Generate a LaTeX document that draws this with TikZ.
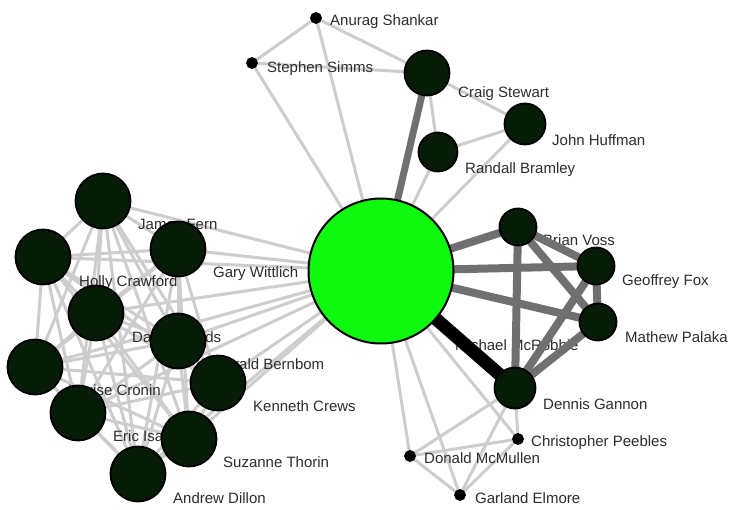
\documentclass[tikz,border=0pt]{standalone}
\usepackage{fontspec}
\setmainfont{Liberation Sans}
\definecolor{nodefill}{RGB}{6,28,6}
\definecolor{centergreen}{RGB}{16,250,16}
\definecolor{litecol}{RGB}{205,205,205}
\definecolor{heavycol}{RGB}{112,112,112}
\definecolor{txtcol}{RGB}{45,45,45}
\pgfdeclarelayer{paper}
\pgfdeclarelayer{edgebg}
\pgfdeclarelayer{labels}
\pgfdeclarelayer{heavylayer}
\pgfsetlayers{paper,edgebg,labels,heavylayer,main}
\begin{document}
\begin{tikzpicture}[x=1pt,y=-1pt,
  nd/.style={circle,draw=black,line width=1.8pt,fill=nodefill,inner sep=0pt},
  bignd/.style={nd,minimum size=55pt},
  midnd/.style={nd,minimum size=#1},
  dotnd/.style={circle,fill=black,draw=black,line width=0.8pt,inner sep=0pt,minimum size=11pt},
  txt/.style={anchor=base west,inner sep=0pt,font=\fontsize{15}{18}\selectfont,text=txtcol},
  lite/.style={draw=litecol,line width=3pt},
  heavyedge/.style={draw=heavycol,line width=8pt},
  blackedge/.style={draw=black,line width=13pt}]
\useasboundingbox (0,0) rectangle (729,510);
\begin{pgfonlayer}{paper}
\fill[white] (0,0) rectangle (729,510);
\end{pgfonlayer}

% ---- nodes ----
\node[circle,draw=black,line width=2pt,fill=centergreen,inner sep=0pt,minimum size=145pt] (M) at (381,271) {};
\node[midnd=45pt] (CS) at (427,73) {};
\node[midnd=41pt] (JH) at (525,124) {};
\node[midnd=39pt] (RB) at (438,152) {};
\node[dotnd] (AS) at (316,18) {};
\node[dotnd] (SS) at (252,63) {};
\node[midnd=37pt] (BV) at (518,227) {};
\node[midnd=37pt] (GF) at (596,266) {};
\node[midnd=37pt] (MP) at (598,322) {};
\node[midnd=41pt] (DG) at (515,388) {};
\node[dotnd] (CP) at (518,439) {};
\node[dotnd] (DM) at (410,456) {};
\node[dotnd] (GE) at (460,495) {};
\node[bignd] (JF) at (103,201) {};
\node[bignd] (HC) at (43,257) {};
\node[bignd] (GW) at (178,249) {};
\node[bignd] (DW) at (96,313) {};
\node[bignd] (GB) at (178,341) {};
\node[bignd] (LC) at (35,367) {};
\node[bignd] (KC) at (218,383) {};
\node[bignd] (EI) at (78,413) {};
\node[bignd] (ST) at (189,439) {};
\node[bignd] (AD) at (138,474) {};

% ---- light edges ----
\begin{pgfonlayer}{edgebg}
\foreach \u [count=\i] in {JF,HC,GW,DW,GB,LC,KC,EI,ST,AD}{
  \draw[lite] (M.center) -- (\u.center);
  \foreach \v [count=\j] in {JF,HC,GW,DW,GB,LC,KC,EI,ST,AD}{
    \ifnum\j>\i \draw[lite] (\u.center) -- (\v.center); \fi
  }
}
\foreach \u/\v in {M/RB,M/JH,M/SS,M/AS,M/DM,M/GE,M/CP,
                   AS/SS,AS/CS,SS/CS,CS/JH,CS/RB,RB/JH,
                   DG/CP,DG/DM,DG/GE,DM/CP,DM/GE,GE/CP}
  \draw[lite] (\u.center) -- (\v.center);
\end{pgfonlayer}

% ---- labels ----
\begin{pgfonlayer}{labels}
\node[txt] (lAS) at (330,26) {Anurag Shankar};
\node[txt] (lSS) at (267,73) {Stephen Simms};
\node[txt] (lCS) at (458,98) {Craig Stewart};
\node[txt] (lJH) at (552,146) {John Huffman};
\node[txt] (lRB) at (465,174) {Randall Bramley};
\node[txt] (lBV) at (543,246) {Brian Voss};
\node[txt] (lGF) at (622,286) {Geoffrey Fox};
\node[txt] (lMP) at (625,343) {Mathew Palaka};
\node[txt] (lM)  at (455,351) {Michael McRobbie};
\node[txt] (lDG) at (543,410) {Dennis Gannon};
\node[txt] (lCP) at (531,447) {Christopher Peebles};
\node[txt] (lDM) at (424,464) {Donald McMullen};
\node[txt] (lGE) at (475,504) {Garland Elmore};
\node[txt] (lJF) at (138,230) {James Fern};
\node[txt] (lHC) at (79,287) {Holly Crawford};
\node[txt] (lGW) at (213,278) {Gary Wittlich};
\node[txt] (lDW) at (132,343) {David Woods};
\node[txt] (lGB) at (214,370) {Gerald Bernbom};
\node[txt] (lLC) at (68,396) {Louise Cronin};
\node[txt] (lKC) at (253,412) {Kenneth Crews};
\node[txt] (lEI) at (113,442) {Eric Isaacson};
\node[txt] (lST) at (223,468) {Suzanne Thorin};
\node[txt] (lAD) at (173,504) {Andrew Dillon};
\end{pgfonlayer}

% ---- heavy edges ----
\begin{pgfonlayer}{heavylayer}
\draw[heavyedge,line width=7pt] (M.center) -- (CS.center);
\foreach \u/\v in {M/BV,M/GF,M/MP,BV/GF,BV/MP,BV/DG,GF/MP,GF/DG,MP/DG}
  \draw[heavyedge] (\u.center) -- (\v.center);
\draw[blackedge] (M.center) -- (DG.center);
\end{pgfonlayer}
\end{tikzpicture}
\end{document}
